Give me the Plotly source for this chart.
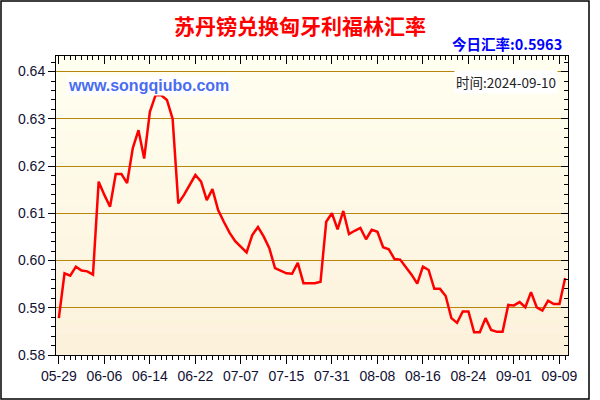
import plotly.graph_objects as go

title_text = "苏丹镑兑换匈牙利福林汇率"
today_rate = "0.5963"
date_text = "2024-09-10"
site_text = "www.songqiubo.com"

tick_labels = ["05-29", "06-06", "06-14", "06-22", "07-07", "07-15",
               "07-31", "08-08", "08-16", "08-24", "09-01", "09-09"]

rates = [
    0.5878, 0.5973, 0.5968, 0.5987, 0.5979, 0.5977, 0.5970, 0.6167, 0.6139, 0.6114,
    0.6183, 0.6183, 0.6164, 0.6238, 0.6276, 0.6216, 0.6315, 0.6350, 0.6350, 0.6340,
    0.6300, 0.6121, 0.6139, 0.6160, 0.6181, 0.6167, 0.6128, 0.6151, 0.6107, 0.6082,
    0.6059, 0.6041, 0.6029, 0.6017, 0.6054, 0.6071, 0.6051, 0.6026, 0.5984, 0.5978,
    0.5973, 0.5972, 0.5995, 0.5952, 0.5952, 0.5952, 0.5955, 0.6082, 0.6100, 0.6066,
    0.6105, 0.6056, 0.6063, 0.6069, 0.6045, 0.6065, 0.6061, 0.6028, 0.6024, 0.6003,
    0.6002, 0.5987, 0.5970, 0.5951, 0.5987, 0.5980, 0.5940, 0.5940, 0.5925, 0.5878,
    0.5868, 0.5892, 0.5892, 0.5848, 0.5848, 0.5878, 0.5853, 0.5849, 0.5849, 0.5906,
    0.5905, 0.5912, 0.5901, 0.5933, 0.5901, 0.5894, 0.5915, 0.5908, 0.5908, 0.5963,
]

y_ticks = [0.58, 0.59, 0.60, 0.61, 0.62, 0.63, 0.64]

idx = list(range(len(rates)))
tick_idx = idx[::8]

W, H = 600, 400
ML, MR, MT, MB = 56, 32, 56, 45
PW, PH = W - ML - MR, H - MT - MB

def px_x(x):
    return (x - ML) / PW

def px_y(y):
    return (H - MB - y) / PH

XR = [-0.5, len(rates) - 0.5]
YR = [0.58, 0.6433]

fig = go.Figure()
fig.add_trace(go.Scatter(x=idx, y=rates, mode="lines",
                         line=dict(color="#FF0000", width=2.5),
                         hoverinfo="x+y", showlegend=False))
fig.add_trace(go.Scatter(x=[], y=[], xaxis="x2", yaxis="y2", showlegend=False))

# gradient plot background
shapes = []
n = 40
top = (255, 255, 240)
bot = (252, 241, 219)
for k in range(n):
    t = (k + 0.5) / n
    c = tuple(round(top[j] + (bot[j] - top[j]) * t) for j in range(3))
    shapes.append(dict(type="rect", xref="paper", yref="paper",
                       x0=0, x1=1, y0=1 - (k + 1) / n, y1=1 - k / n + 0.001,
                       fillcolor="rgb(%d,%d,%d)" % c, line=dict(width=0),
                       layer="below"))
# outer frame
shapes.append(dict(type="rect", xref="paper", yref="paper",
                   x0=px_x(1), x1=px_x(589), y0=px_y(399), y1=px_y(1),
                   line=dict(color="#000000", width=1.5), layer="above"))

tick_font = dict(family="Liberation Sans, Arial", size=14, color="#111133")

fig.update_layout(
    width=W, height=H,
    margin=dict(l=ML, r=MR, t=MT, b=MB),
    paper_bgcolor="white",
    plot_bgcolor="rgba(0,0,0,0)",
    shapes=shapes,
    xaxis=dict(range=XR, tickmode="array", tickvals=tick_idx, ticktext=tick_labels,
               ticks="outside", ticklen=8, tickcolor="black", showgrid=False,
               showline=True, linecolor="black", linewidth=1, zeroline=False,
               tickfont=tick_font, fixedrange=True,
               minor=dict(tickmode="linear", tick0=0, dtick=1, ticks="outside",
                          ticklen=4, tickcolor="black", showgrid=False)),
    yaxis=dict(range=YR, tickmode="array", tickvals=y_ticks, tickformat=".2f",
               ticks="outside", ticklen=7, tickcolor="black",
               showgrid=True, gridcolor="#B8860B", gridwidth=1,
               showline=True, linecolor="black", linewidth=1, zeroline=False,
               tickfont=tick_font, fixedrange=True,
               minor=dict(tickmode="linear", tick0=0.58, dtick=0.002, ticks="outside",
                          ticklen=4, tickcolor="black", showgrid=False)),
    xaxis2=dict(range=XR, overlaying="x", side="top", tickmode="array",
                tickvals=tick_idx, ticks="inside", ticklen=8, tickcolor="black",
                showticklabels=False, showgrid=False, showline=True,
                linecolor="black", linewidth=1, zeroline=False,
                minor=dict(tickmode="linear", tick0=0, dtick=1, ticks="inside",
                           ticklen=4, tickcolor="black", showgrid=False)),
    yaxis2=dict(range=YR, overlaying="y", side="right", tickmode="array",
                tickvals=y_ticks, ticks="inside", ticklen=7, tickcolor="black",
                showticklabels=False, showgrid=False, showline=True,
                linecolor="black", linewidth=1, zeroline=False,
                minor=dict(tickmode="linear", tick0=0.58, dtick=0.002, ticks="inside",
                           ticklen=4, tickcolor="black", showgrid=False)),
    annotations=[
        dict(text="<b>" + title_text + "</b>", xref="paper", yref="paper",
             x=px_x(300), y=px_y(25), xanchor="center", yanchor="middle",
             showarrow=False,
             font=dict(family="Noto Sans CJK SC", size=21, color="#FF0000")),
        dict(text="<b>今日汇率:" + today_rate + "</b>", xref="paper", yref="paper",
             x=px_x(564), y=px_y(43), xanchor="right", yanchor="middle",
             showarrow=False,
             font=dict(family="Noto Sans CJK SC", size=14.5, color="#0000FF")),
        dict(text="<b>" + site_text + "</b>", xref="paper", yref="paper",
             x=px_x(66), y=px_y(85), xanchor="left", yanchor="middle",
             showarrow=False, bgcolor="white", borderpad=1,
             font=dict(family="Liberation Sans, Arial", size=16, color="#4A6CF0")),
        dict(text="时间:" + date_text, xref="paper", yref="paper",
             x=px_x(558), y=px_y(82), xanchor="right", yanchor="middle",
             showarrow=False, bgcolor="white", borderpad=1,
             font=dict(family="Noto Sans CJK SC", size=13.5, color="#222222")),
    ],
)

fig.write_html("out.html")
